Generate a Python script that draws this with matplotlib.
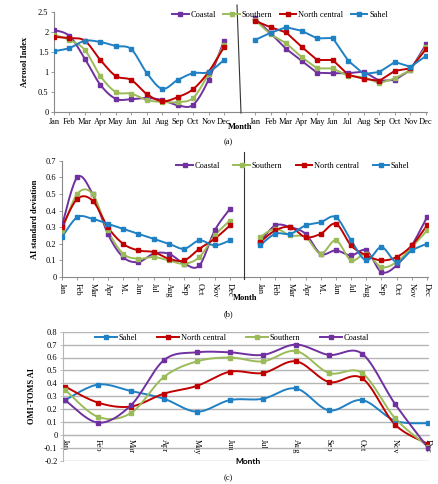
import numpy as np
import matplotlib
matplotlib.use("Agg")
import matplotlib.pyplot as plt
from matplotlib.lines import Line2D
from matplotlib.ticker import FuncFormatter

months = ["Jan", "Feb", "Mar", "Apr", "May", "Jun", "Jul", "Aug", "Sep", "Oct", "Nov", "Dec"]
months_b = ["Jan", "Feb", "Mar", "Apr", "M..", "Jun", "Jul", "Aug", "Sep", "Oct", "Nov", "Dec"]
regions = ["Coastal", "Southern", "North central", "Sahel"]
colors = {"Coastal": "#7030A0", "Southern": "#9BBB59", "North central": "#C00000", "Sahel": "#1F80C4"}

# (a) left: Aerosol Index (smoothed)
a_left = {
    "Coastal":       [2.05, 1.90, 1.33, 0.68, 0.33, 0.32, 0.35, 0.30, 0.17, 0.18, 0.80, 1.78],
    "Southern":      [1.93, 1.80, 1.55, 0.90, 0.50, 0.46, 0.30, 0.25, 0.25, 0.35, 0.95, 1.68],
    "North central": [1.88, 1.85, 1.78, 1.30, 0.90, 0.80, 0.45, 0.27, 0.37, 0.57, 1.00, 1.62],
    "Sahel":         [1.52, 1.60, 1.78, 1.75, 1.65, 1.57, 0.98, 0.58, 0.80, 0.97, 1.00, 1.30],
}
# (a) right: Aerosol Index (straight)
a_right = {
    "Coastal":       [2.34, 1.97, 1.58, 1.28, 0.98, 0.97, 0.97, 1.01, 0.78, 0.80, 1.05, 1.69],
    "Southern":      [2.30, 1.94, 1.72, 1.37, 1.09, 1.09, 0.90, 0.87, 0.72, 0.84, 1.05, 1.63],
    "North central": [2.28, 2.12, 1.99, 1.63, 1.30, 1.30, 0.93, 0.83, 0.78, 1.03, 1.09, 1.57],
    "Sahel":         [1.80, 1.98, 2.12, 2.03, 1.84, 1.85, 1.28, 0.95, 1.00, 1.25, 1.13, 1.40],
}
# (b) left: AI standard deviation
b_left = {
    "Coastal":       [0.31, 0.60, 0.50, 0.26, 0.12, 0.09, 0.14, 0.14, 0.08, 0.07, 0.28, 0.41],
    "Southern":      [0.28, 0.50, 0.50, 0.28, 0.14, 0.11, 0.12, 0.10, 0.08, 0.12, 0.25, 0.34],
    "North central": [0.30, 0.47, 0.46, 0.30, 0.20, 0.16, 0.15, 0.11, 0.10, 0.17, 0.23, 0.31],
    "Sahel":         [0.24, 0.36, 0.35, 0.32, 0.29, 0.26, 0.23, 0.20, 0.17, 0.22, 0.19, 0.22],
}
# (b) right
b_right = {
    "Coastal":       [0.21, 0.31, 0.30, 0.26, 0.14, 0.16, 0.13, 0.16, 0.03, 0.07, 0.19, 0.36],
    "Southern":      [0.24, 0.29, 0.25, 0.24, 0.14, 0.22, 0.10, 0.14, 0.06, 0.09, 0.18, 0.28],
    "North central": [0.21, 0.28, 0.30, 0.24, 0.26, 0.32, 0.19, 0.13, 0.10, 0.12, 0.19, 0.31],
    "Sahel":         [0.19, 0.26, 0.26, 0.31, 0.33, 0.36, 0.22, 0.10, 0.18, 0.09, 0.16, 0.20],
}
# (c) OMI-TOMS AI
c_regions = ["Sahel", "North central", "Southern", "Coastal"]
c_data = {
    "Sahel":         [0.27, 0.39, 0.34, 0.28, 0.18, 0.27, 0.28, 0.36, 0.19, 0.27, 0.11, 0.09],
    "North central": [0.375, 0.25, 0.22, 0.32, 0.38, 0.49, 0.48, 0.57, 0.41, 0.44, 0.08, -0.07],
    "Southern":      [0.35, 0.14, 0.17, 0.45, 0.57, 0.60, 0.57, 0.65, 0.48, 0.48, 0.13, -0.09],
    "Coastal":       [0.27, 0.095, 0.23, 0.58, 0.64, 0.64, 0.62, 0.70, 0.62, 0.63, 0.24, -0.10],
}

W, H = 438, 484
fig = plt.figure(figsize=(W / 100, H / 100), dpi=100)
SERIF = ["Liberation Serif", "DejaVu Serif"]
plt.rcParams["font.family"] = SERIF
FS = 6
AXC = "#8a8a8a"


def ax_px(x0, x1, ytop, ybot):
    return fig.add_axes([x0 / W, 1 - ybot / H, (x1 - x0) / W, (ybot - ytop) / H])


def smooth(x, y, n=16):
    P = np.column_stack([x, y]).astype(float)
    P = np.vstack([P[0], P, P[-1]])
    out = []
    t = np.linspace(0, 1, n)[:, None]
    for i in range(1, len(P) - 2):
        p0, p1, p2, p3 = P[i - 1], P[i], P[i + 1], P[i + 2]
        seg = 0.5 * (2 * p1 + (-p0 + p2) * t + (2 * p0 - 5 * p1 + 4 * p2 - p3) * t ** 2
                     + (-p0 + 3 * p1 - 3 * p2 + p3) * t ** 3)
        out.append(seg if i == 1 else seg[1:])
    out = np.vstack(out)
    return out[:, 0], out[:, 1]


def draw(ax, data, order, smooth_lines=True):
    x = np.arange(12)
    for r in order:
        y = np.array(data[r])
        if smooth_lines:
            xs, ys = smooth(x, y)
        else:
            xs, ys = x, y
        ax.plot(xs, ys, color=colors[r], lw=1.4, solid_capstyle="round", zorder=3)
        ax.plot(x, y, ls="none", marker="s", ms=2.6, color=colors[r], zorder=4)


def style(ax, left=True):
    for s in ["top", "right"]:
        ax.spines[s].set_visible(False)
    ax.spines["bottom"].set_color(AXC)
    ax.spines["left"].set_color(AXC)
    if not left:
        ax.spines["left"].set_visible(False)
        ax.tick_params(axis="y", left=False, labelleft=False)
    ax.tick_params(labelsize=FS, length=2, width=0.6, color=AXC, pad=2)
    ax.set_facecolor("none")


fmt = FuncFormatter(lambda v, p: f"{v:g}")

# ---------- (a) ----------
axL = ax_px(54, 240, 12, 112)
draw(axL, a_left, regions, True)
axL.set_xlim(0, 186 / 15.45)
axL.set_ylim(0, 2.5)
axL.set_yticks(np.arange(0, 2.51, 0.5))
axL.yaxis.set_major_formatter(fmt)
axL.set_xticks(np.arange(12))
axL.set_xticklabels(months)
style(axL)
axL.set_ylabel("Aerosol Index", fontsize=FS, fontweight="bold", labelpad=6)

axR = ax_px(240, 427, 12, 112)
draw(axR, a_right, regions, False)
axR.set_xlim(-15 / 15.55, 11 + 1 / 15.55)
axR.set_ylim(0, 2.5)
axR.set_xticks(np.arange(12))
axR.set_xticklabels(months)
style(axR, left=False)

fig.add_artist(Line2D([237 / W, 241 / W], [1 - 5 / H, 1 - 113 / H], color="#333333", lw=0.8))
fig.text(240 / W, 1 - 127 / H, "Month", fontsize=FS, fontweight="bold", ha="center", va="center")
fig.text(228 / W, 1 - 142 / H, "(a)", fontsize=FS, ha="center", va="center")

handles = [Line2D([], [], color=colors[r], lw=1.4, marker="s", ms=2.6) for r in regions]
fig.legend(handles, regions, loc="center", bbox_to_anchor=(280 / W, 1 - 15 / H), ncol=4,
           frameon=False, fontsize=FS, handlelength=2.0, handletextpad=0.2, columnspacing=0.9)

# ---------- (b) ----------
bL = ax_px(62, 244, 160.7, 277)
draw(bL, b_left, regions, True)
bL.set_xlim(0, 182 / 15.27)
bL.set_ylim(0, 0.7)
bL.set_yticks(np.arange(0, 0.71, 0.1))
bL.yaxis.set_major_formatter(fmt)
bL.set_xticks(np.arange(12))
bL.set_xticklabels(months_b, rotation=270)
style(bL)
bL.set_ylabel("AI standard deviation", fontsize=FS, fontweight="bold", labelpad=5)

bR = ax_px(244, 428, 160.7, 277)
draw(bR, b_right, regions, True)
bR.set_xlim(-16 / 15.18, 11 + 1 / 15.18)
bR.set_ylim(0, 0.7)
bR.set_xticks(np.arange(12))
bR.set_xticklabels(months_b, rotation=270)
style(bR, left=False)

fig.add_artist(Line2D([244 / W, 244 / W], [1 - 152 / H, 1 - 279 / H], color="#333333", lw=0.8))
fig.text(245 / W, 1 - 298 / H, "Month", fontsize=FS, fontweight="bold", ha="center", va="center")
fig.text(228 / W, 1 - 314 / H, "(b)", fontsize=FS, ha="center", va="center")
fig.legend(handles, regions, loc="center", bbox_to_anchor=(293 / W, 1 - 166 / H), ncol=4,
           frameon=False, fontsize=FS, handlelength=2.0, handletextpad=0.2, columnspacing=1.6)

# ---------- (c) ----------
cA = ax_px(63, 429, 331.7, 460.7)
for s in ["top", "right"]:
    cA.spines[s].set_visible(False)
cA.spines["bottom"].set_position(("data", 0))
draw(cA, c_data, c_regions, True)
cA.set_xlim(-2 / 33, 11 + 1 / 33)
cA.set_ylim(-0.2, 0.8)
yt = np.round(np.arange(-0.2, 0.81, 0.1), 1)
cA.set_yticks(yt)
cA.yaxis.set_major_formatter(fmt)
cA.yaxis.grid(True, color="#b5b5b5", lw=1.0)
cA.set_axisbelow(True)
cA.set_xticks(np.arange(12))
cA.set_xticklabels(months)
cA.spines["bottom"].set_color("#b5b5b5")
cA.spines["left"].set_color("#b5b5b5")
cA.tick_params(labelsize=FS, length=2, width=0.6, color="#b5b5b5", pad=2)
cA.tick_params(axis="x", length=0, pad=3, labelrotation=270)
cA.set_ylabel("OMI-TOMS AI", fontsize=FS, fontweight="bold", labelpad=6)

fig.text(248 / W, 1 - 462 / H, "Month", fontsize=FS, fontweight="bold", ha="center", va="center",
         family=["Lato", "DejaVu Sans"])
fig.text(228 / W, 1 - 478 / H, "(c)", fontsize=FS, ha="center", va="center")
handles_c = [Line2D([], [], color=colors[r], lw=1.4, marker="s", ms=2.6) for r in c_regions]
fig.legend(handles_c, c_regions, loc="center", bbox_to_anchor=(232 / W, 1 - 338 / H), ncol=4,
           frameon=False, fontsize=FS, handlelength=2.6, handletextpad=0.2, columnspacing=2.4)

fig.savefig("out.png", dpi=100)
